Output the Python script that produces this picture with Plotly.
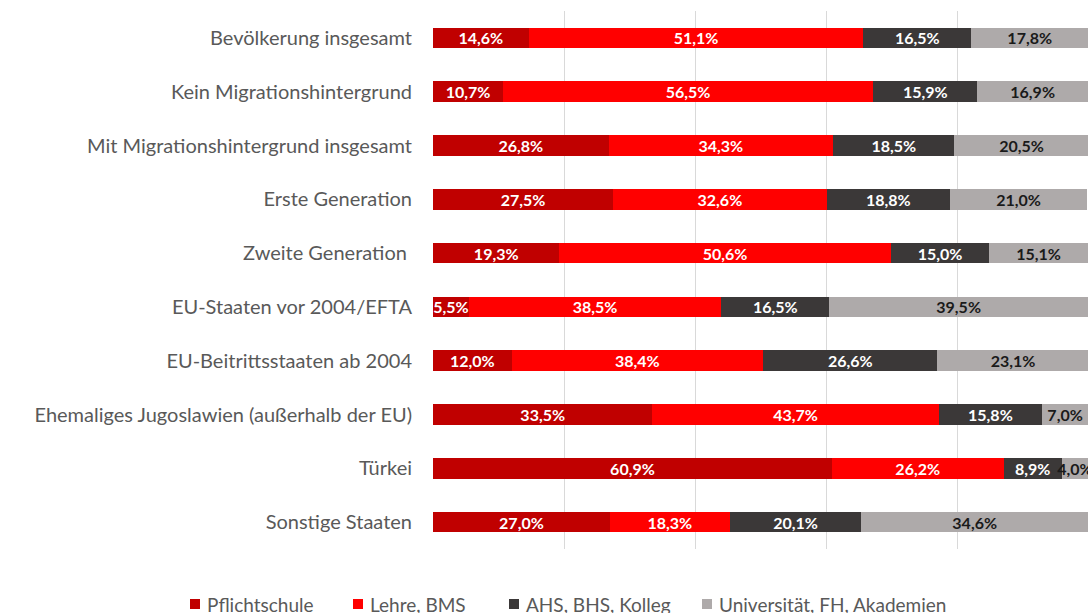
import plotly.graph_objects as go

categories = [
    "Bevölkerung insgesamt",
    "Kein Migrationshintergrund",
    "Mit Migrationshintergrund insgesamt",
    "Erste Generation",
    "Zweite Generation ",
    "EU-Staaten vor 2004/EFTA",
    "EU-Beitrittsstaaten ab 2004",
    "Ehemaliges Jugoslawien (außerhalb der EU)",
    "Türkei",
    "Sonstige Staaten",
]
pflichtschule = [14.6, 10.7, 26.8, 27.5, 19.3, 5.5, 12.0, 33.5, 60.9, 27.0]
lehre_bms = [51.1, 56.5, 34.3, 32.6, 50.6, 38.5, 38.4, 43.7, 26.2, 18.3]
ahs_bhs = [16.5, 15.9, 18.5, 18.8, 15.0, 16.5, 26.6, 15.8, 8.9, 20.1]
universitaet = [17.8, 16.9, 20.5, 21.0, 15.1, 39.5, 23.1, 7.0, 4.0, 34.6]

series_names = ["Pflichtschule", "Lehre, BMS", "AHS, BHS, Kolleg", "Universität, FH, Akademien"]
series_colors = ["#C00000", "#FF0000", "#3B3838", "#AEAAAA"]
label_colors = ["white", "white", "white", "#1a1a1a"]
series_values = [pflichtschule, lehre_bms, ahs_bhs, universitaet]

FONT = "Lato"
W, H = 1089, 613
ML, MR, MT, MB = 433, 1, 11, 64
PW, PH = W - ML - MR, H - MT - MB

fig = go.Figure()
for name, vals, color, tcolor in zip(series_names, series_values, series_colors, label_colors):
    fig.add_trace(go.Bar(
        y=categories, x=vals, name=name, orientation="h",
        marker=dict(color=color, line=dict(width=0)),
        text=[f"{v:.1f}%".replace(".", ",") for v in vals],
        textposition="inside", insidetextanchor="middle",
        textfont=dict(family=FONT, size=16, color=tcolor, weight="bold"),
        cliponaxis=True, showlegend=False,
    ))

# manual legend below the plot (one row, like the reference)
legend_marker_px = [190, 353, 509, 702]   # left edge of each legend square, in pixels
legend_y_px = 604
sq = 10
for name, color, mx in zip(series_names, series_colors, legend_marker_px):
    fig.add_shape(
        type="rect", xref="paper", yref="paper",
        x0=(mx - ML) / PW, x1=(mx + sq - ML) / PW,
        y0=(H - MB - (legend_y_px + sq / 2)) / PH, y1=(H - MB - (legend_y_px - sq / 2)) / PH,
        fillcolor=color, line=dict(width=0), layer="above",
    )
    fig.add_annotation(
        xref="paper", yref="paper",
        x=(mx + sq + 5 - ML) / PW, y=(H - MB - legend_y_px) / PH,
        text=name, showarrow=False, xanchor="left", yanchor="middle",
        font=dict(family=FONT, size=19, color="#595959"),
    )

fig.update_layout(
    template="none",
    barmode="stack",
    bargap=0.62,
    width=W, height=H,
    margin=dict(l=ML, r=MR, t=MT, b=MB, autoexpand=False),
    paper_bgcolor="white", plot_bgcolor="white",
    font=dict(family=FONT, size=20, color="#595959"),
    uniformtext=dict(minsize=16, mode="show"),
    showlegend=False,
)
fig.update_xaxes(range=[0, 100], dtick=20, showgrid=True, gridcolor="#D9D9D9",
                 gridwidth=1, showticklabels=False, zeroline=False, showline=False,
                 ticks="", automargin=False)
fig.update_yaxes(autorange="reversed", showgrid=False, ticks="",
                 ticklabelstandoff=20, showline=False, automargin=False,
                 tickfont=dict(family=FONT, size=20, color="#595959"))

fig.write_html(
    "out.html",
    config={"displayModeBar": False},
    post_script="document.body.style.margin='0';document.body.style.overflow='hidden';",
)
